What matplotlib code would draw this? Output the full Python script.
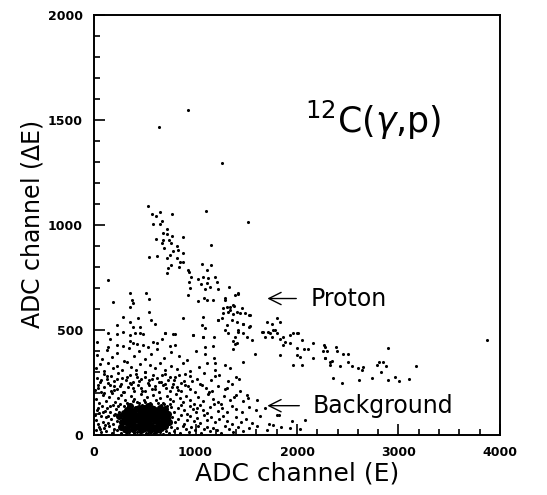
import matplotlib
matplotlib.use("Agg")
import matplotlib.pyplot as plt
from matplotlib.ticker import MultipleLocator

# proton band (E, dE)
proton_E = [529, 571, 608, 647, 771, 584, 650, 667, 716, 611, 680, 722, 771, 880, 683, 739,
            667, 761, 821, 690, 778, 827, 880, 538, 621, 749, 716, 821, 847, 758, 877, 732,
            837, 923, 1067, 1110, 1152, 722, 933, 952, 1027, 1077, 1120, 1192, 1051, 1113, 936,
            946, 1093, 1143, 1208, 1225, 1327, 1415, 923, 1027, 1080, 1110, 1175, 1290, 1313,
            1340, 1382, 1405, 1455, 1487, 1530, 1274, 1257, 1307, 1356, 1405, 1471, 1530, 1421,
            1317, 1504, 1070, 880, 1060, 1093, 978, 1668, 1701, 1750, 1800, 1832, 1734, 1783,
            1865, 1931, 1997, 1224, 1290, 1389, 1421, 1274, 1340, 1372, 1323, 1372, 1438, 1537,
            1224, 1465, 1537, 1290, 1421, 1471, 1182, 1389, 1553, 1389, 1366, 1652, 1717, 1767,
            1800, 1684, 1750, 1832, 1881, 1931, 1865, 1963, 2013, 2046, 1997, 2069, 2111, 2160,
            1997, 2029, 2275, 2292, 2275, 2325, 2160, 1586, 1832, 1471, 1340, 1192, 1963, 2046,
            2266, 2253, 2384, 2397, 2456, 2502, 2275, 2341, 2325, 2423, 2505, 2545, 2604, 2637,
            2653, 2784, 2807, 2850, 2876, 2827, 2899, 3172, 2357, 2440, 2610, 2735, 2892, 2965,
            3007, 3103]
proton_dE = [1090, 1050, 1042, 1060, 1050, 1006, 1003, 1019, 979, 934, 964, 955, 948, 945, 928, 928,
             912, 912, 900, 892, 876, 881, 868, 849, 853, 857, 844, 841, 825, 808, 822, 793,
             798, 788, 812, 785, 808, 770, 777, 751, 741, 751, 749, 754, 717, 725, 730,
             698, 693, 706, 730, 695, 706, 671, 668, 639, 654, 643, 643, 643, 611,
             595, 614, 587, 603, 579, 571, 579, 555, 524, 547, 539, 531, 516, 500,
             484, 468, 563, 555, 524, 508, 476, 492, 539, 531, 555, 539, 484, 500,
             468, 476, 487, 547, 651, 666, 677, 603, 611, 619, 587, 576, 579, 571,
             547, 531, 519, 500, 492, 484, 468, 468, 452, 433, 408, 492, 492, 500,
             484, 468, 468, 455, 444, 436, 431, 484, 484, 452, 413, 408, 408, 436,
             381, 373, 420, 400, 365, 349, 365, 386, 381, 349, 317, 341, 333, 333,
             428, 400, 420, 401, 384, 384, 368, 354, 336, 328, 346, 330, 320, 312,
             325, 333, 346, 349, 330, 301, 416, 328, 270, 246, 262, 273, 262, 275,
             259, 268]

# isolated events and low-E scatter above the background
stray_E = [640, 926, 1261, 1517, 3871, 1103, 141, 190, 355, 371, 387, 355, 512, 545, 538, 289,
           436, 355, 387, 453, 561, 601, 223, 699, 798, 1070, 1156]
stray_dE = [1466, 1547, 1295, 1014, 452, 1066, 738, 635, 677, 643, 627, 611, 674, 646, 585, 560,
            555, 539, 516, 516, 550, 527, 524, 484, 481, 468, 906]

# background
bg_E = [20, 45, 70, 95, 120, 150, 175, 200, 230, 760, 790, 820, 850, 880, 905, 935, 960, 990,
        1020, 1050, 1085, 1110, 1140, 1175, 1210, 1250, 1290, 1330, 1370, 1420, 1470, 1530, 1610,
        1700, 1760, 1840, 1930, 2030,
        15, 40, 65, 90, 115, 140, 165, 195, 225, 770, 800, 830, 860, 890, 920, 950, 985, 1015,
        1045, 1080, 1115, 1150, 1190, 1230, 1270, 1310, 1360, 1400, 1450, 1500, 1560, 1640, 1720,
        1800, 1950, 2080,
        25, 50, 80, 105, 130, 160, 190, 220, 245, 760, 790, 825, 855, 885, 915, 945, 975, 1005,
        1040, 1075, 1110, 1145, 1180, 1220, 1265, 1310, 1355, 1400, 1460, 1530, 1600, 1680, 1820,
        20, 50, 85, 115, 145, 175, 210, 240, 270, 300, 335, 365, 395, 425, 460, 490, 520, 555,
        585, 615, 650, 680, 715, 745, 780, 810, 845, 875, 910, 945, 980, 1020, 1070, 1120, 1170,
        1220, 1280, 1340, 1400, 1470, 1520, 1610,
        10, 40, 70, 100, 135, 165, 200, 230, 265, 295, 330, 360, 395, 430, 465, 500, 535, 570,
        605, 640, 675, 710, 745, 780, 820, 860, 900, 945, 990, 1040, 1100, 1160, 1220, 1290, 1360,
        1440, 1504,
        25, 60, 95, 130, 165, 200, 240, 275, 310, 350, 385, 420, 460, 500, 540, 580, 620, 660,
        700, 745, 790, 840, 890, 950, 1010, 1080, 1150, 1230, 1320, 1400,
        15, 55, 100, 140, 185, 230, 275, 320, 365, 410, 455, 500, 550, 600, 650, 700, 760, 820,
        880, 950, 1030, 1110, 1190, 1290,
        30, 80, 130, 180, 230, 290, 340, 390, 440, 500, 560, 620, 690, 760, 840, 920, 1000, 1090,
        1180,
        27, 141, 158, 223, 289, 355, 387, 420, 486, 535, 584, 617, 666, 748, 798, 1093, 1175, 1371,
        1404, 141, 223, 289, 355, 404, 453, 486, 699, 781, 978, 1076,
        265, 290, 315, 345, 370, 395, 425, 455, 480, 510, 535, 565, 590, 620, 645, 675, 705, 735,
        260, 290, 320, 355, 385, 415, 445, 475, 505, 535, 565, 595, 625, 655, 690, 720, 750,
        35, 70, 100, 130, 160, 195, 225, 255, 285, 320, 350, 380, 410, 445, 475, 505, 540, 570,
        600, 635, 665, 700, 730, 765, 795, 830, 860, 895, 930, 965,
        1010, 1060, 1130, 1190, 1250, 1310, 1380, 1430,
        10, 35, 60, 85, 110, 135, 160, 185, 210, 240]
bg_dE = [25, 40, 15, 35, 20, 45, 10, 30, 22, 40, 18, 35, 12, 42, 28, 15, 38, 22,
         45, 12, 30, 40, 18, 35, 25, 10, 42, 28, 15, 38, 20, 32, 45,
         25, 50, 40, 35, 30,
         70, 55, 90, 62, 85, 58, 75, 95, 65, 88, 60, 78, 95, 55, 72, 90, 65, 82,
         58, 95, 70, 85, 60, 75, 92, 68, 55, 85, 62, 78, 58, 90, 55,
         95, 65, 72,
         120, 105, 140, 115, 130, 108, 145, 125, 112, 135, 110, 128, 145, 118, 102, 138, 125, 110,
         142, 120, 105, 132, 148, 115, 128, 108, 140, 122, 112, 135, 118, 130, 95,
         170, 155, 190, 162, 180, 198, 158, 175, 192, 165, 150, 185, 172, 158, 195, 168, 182, 155,
         190, 165, 178, 152, 188, 170, 160, 195, 175, 158, 185, 168, 150, 180, 162, 195, 172,
         158, 185, 168, 190, 160, 178, 167,
         215, 240, 205, 230, 248, 210, 235, 220, 245, 205, 228, 242, 212, 238, 225, 208, 246, 218,
         232, 205, 240, 222, 210, 245, 228, 212, 238, 220, 205, 242, 225, 210, 236, 218, 245,
         208, 190,
         270, 255, 290, 265, 282, 258, 295, 272, 260, 288, 252, 278, 265, 298, 260, 285, 270, 255,
         292, 275, 262, 288, 258, 280, 268, 295, 262, 285, 258, 275,
         320, 338, 305, 345, 318, 330, 308, 348, 325, 312, 340, 302, 335, 318, 345, 310, 330, 315,
         342, 305, 325, 345, 312, 335,
         380, 360, 405, 372, 392, 355, 415, 378, 398, 362, 385, 410, 368, 395, 375, 358, 402, 385,
         365,
         445, 420, 455, 430, 425, 450, 440, 432, 428, 420, 445, 440, 455, 425, 430, 420, 425, 450,
         440, 485, 480, 490, 478, 485, 488, 482, 484, 480, 476, 468,
         8, 18, 5, 14, 22, 10, 16, 6, 20, 12, 4, 17, 9, 21, 13, 7, 19, 11,
         150, 138, 155, 142, 160, 135, 152, 145, 158, 140, 148, 136, 155, 143, 150, 138, 147,
         225, 262, 198, 280, 240, 215, 265, 232, 205, 278, 248, 222, 290, 258, 212, 275, 238, 268,
         220, 252, 285, 245, 262, 228, 275, 215, 248, 290, 232, 258,
         130, 240, 205, 280, 150, 225, 180, 265,
         95, 130, 28, 110, 48, 92, 138, 52, 100, 140]

# dense low-energy core
core_E = [270, 300, 320, 340, 360, 380, 400, 410, 430, 450, 470, 490, 500, 520, 540, 560, 580,
          600, 620, 640, 660, 680, 700, 720, 300, 330, 350, 380, 420, 440, 460, 480, 510, 530,
          550, 570, 590, 610, 650, 250, 280, 740,
          290, 310, 335, 355, 375, 395, 415, 440, 460, 485, 505, 525, 545, 565, 590, 615, 635,
          655, 675, 700, 725, 320, 365, 405, 455, 495, 535, 575, 615, 655, 695]
core_dE = [40, 80, 120, 50, 95, 30, 70, 125, 45, 100, 60, 130, 35, 85, 110, 50, 75,
           120, 40, 90, 60, 110, 45, 80, 30, 100, 140, 110, 90, 130, 25, 80, 60, 140,
           25, 100, 35, 65, 130, 90, 60, 60,
           105, 60, 80, 120, 55, 100, 40, 75, 115, 50, 100, 45, 70, 130, 90, 105, 55,
           35, 85, 125, 100, 25, 70, 95, 65, 110, 120, 85, 25, 110, 60]

fig = plt.figure(figsize=(5.47, 4.95), dpi=100)
ax = fig.add_axes([0.172, 0.121, 0.742, 0.849])

ax.scatter(bg_E, bg_dE, s=5, c="black", linewidths=0)
ax.scatter(proton_E, proton_dE, s=5, c="black", linewidths=0)
ax.scatter(stray_E, stray_dE, s=5, c="black", linewidths=0)
ax.scatter(core_E, core_dE, s=26, c="black", linewidths=0)

ax.set_xlim(0, 4000)
ax.set_ylim(0, 2000)
ax.xaxis.set_major_locator(MultipleLocator(1000))
ax.xaxis.set_minor_locator(MultipleLocator(200))
ax.yaxis.set_major_locator(MultipleLocator(500))
ax.yaxis.set_minor_locator(MultipleLocator(100))
ax.tick_params(which="both", direction="in", top=False, right=False, width=1.2)
ax.tick_params(which="major", length=8, labelsize=9, pad=8)
ax.tick_params(which="minor", length=4)
for lab in ax.get_xticklabels() + ax.get_yticklabels():
    lab.set_fontweight("bold")
for sp in ax.spines.values():
    sp.set_linewidth(1.4)

ax.set_xlabel("ADC channel (E)", fontsize=18, labelpad=2)
ax.set_ylabel("ADC channel ($\\Delta$E)", fontsize=17, labelpad=2)

ax.text(2080, 1500, "$^{12}$C($\\gamma$,p)", fontsize=25, va="center")

ax.annotate("", xy=(1680, 650), xytext=(2020, 650),
            arrowprops=dict(arrowstyle="->", lw=1.0, mutation_scale=22))
ax.text(2130, 650, "Proton", fontsize=17, va="center")
ax.annotate("", xy=(1680, 140), xytext=(2050, 140),
            arrowprops=dict(arrowstyle="->", lw=1.0, mutation_scale=22))
ax.text(2150, 140, "Background", fontsize=17, va="center")

fig.savefig("out.png", dpi=100)
